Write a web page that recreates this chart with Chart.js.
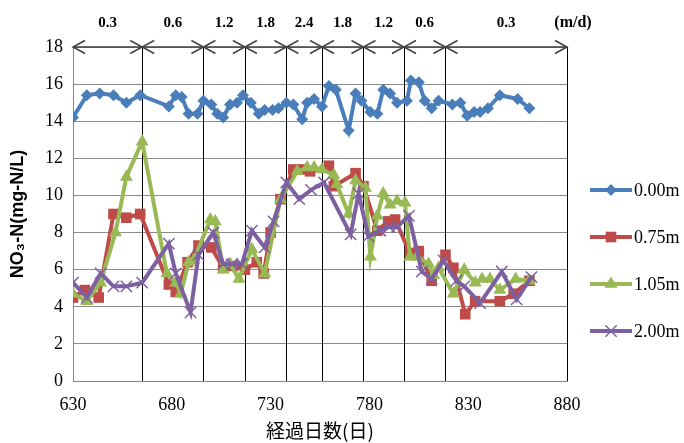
<!DOCTYPE html>
<html>
<head>
<meta charset="utf-8">
<script src="https://cdn.jsdelivr.net/npm/chart.js@4.4.1/dist/chart.umd.min.js"></script>
<style>
  body { margin: 0; background: #fff; }
  canvas { display: block; }
</style>
</head>
<body>
<canvas id="chart" width="684" height="443"></canvas>
<script>
// sampling days and NO3-N (mg-N/L) per depth
const days000 = [630, 637, 643.5, 650.5, 657, 664, 678.5, 682, 685, 688.5, 693, 696, 700, 703, 706, 709.5, 713, 716, 720, 724, 727, 731, 734, 738, 741.5, 746, 748.5, 752, 756, 759.5, 763, 769.5, 773, 776, 780.5, 784, 787, 790.5, 794, 799, 801, 805, 808, 811.5, 815, 822, 826, 829.5, 833, 836, 840, 846, 855, 861];
const no3_000 = [14.2, 15.4, 15.5, 15.4, 15.0, 15.4, 14.8, 15.4, 15.3, 14.4, 14.4, 15.1, 14.9, 14.4, 14.2, 14.9, 15.0, 15.4, 15.0, 14.4, 14.6, 14.6, 14.7, 15.0, 14.9, 14.1, 15.0, 15.2, 14.8, 15.9, 15.7, 13.5, 15.5, 15.1, 14.5, 14.4, 15.7, 15.5, 15.0, 15.1, 16.2, 16.1, 15.1, 14.7, 15.1, 14.9, 15.0, 14.3, 14.5, 14.5, 14.7, 15.4, 15.2, 14.7];

const days075 = [630, 636, 643, 650.5, 657, 664, 678.5, 682, 688, 693.5, 700, 706, 711, 717, 723, 726.5, 730, 735, 741.5, 746.5, 750, 759.5, 762, 773, 777, 784, 789.5, 793, 800.5, 805, 811.5, 818.5, 822.5, 828.5, 833.5, 846, 853, 861];
const no3_075 = [4.5, 4.9, 4.5, 9.0, 8.8, 9.0, 5.2, 4.8, 6.4, 7.3, 7.2, 6.1, 6.2, 6.0, 6.4, 5.8, 8.0, 9.8, 11.4, 11.4, 11.3, 11.6, 10.5, 11.2, 10.5, 8.1, 8.6, 8.7, 6.9, 7.0, 5.4, 6.8, 6.1, 3.6, 4.3, 4.3, 4.7, 5.4];

const days105 = [630, 637, 644, 651.5, 657, 665, 677.5, 682, 684.5, 688.5, 691, 699.5, 702, 706, 709.5, 714, 720.5, 727, 735, 743.5, 748.5, 752, 756, 762, 763.5, 769.5, 773, 778, 780.5, 784, 787, 790.5, 794, 798, 800.5, 804, 810, 812.5, 815, 822.5, 828, 833.5, 837, 841, 846, 854, 861];
const no3_105 = [4.7, 4.3, 5.3, 8.0, 11.0, 12.9, 5.8, 5.3, 4.7, 6.4, 6.5, 8.7, 8.6, 6.0, 6.3, 5.5, 7.1, 5.8, 9.8, 11.3, 11.5, 11.5, 11.4, 11.1, 10.6, 9.0, 10.8, 10.4, 6.7, 8.9, 10.1, 9.5, 9.7, 9.6, 6.7, 6.7, 6.3, 5.7, 6.1, 4.7, 6.0, 5.3, 5.5, 5.5, 4.9, 5.5, 5.4];

const days200 = [630, 637, 644, 650.5, 657, 665, 678.5, 682, 689.5, 693.5, 701, 706, 710.5, 715.5, 720.5, 727, 731.5, 738, 744.5, 750.5, 757, 770.5, 774.5, 779.5, 785.5, 790, 794, 800, 806.5, 811.5, 817.5, 824, 828, 836, 847, 854.5, 862];
const no3_200 = [5.3, 4.5, 5.8, 5.1, 5.1, 5.3, 7.4, 5.8, 3.7, 6.8, 8.0, 6.3, 6.3, 6.3, 8.1, 7.2, 8.6, 10.7, 9.8, 10.3, 10.7, 7.9, 10.1, 7.8, 8.1, 8.3, 8.3, 8.9, 5.9, 5.5, 6.5, 5.4, 5.1, 4.2, 5.9, 4.4, 5.6];

// loading-rate periods along the top (m/d)
const periodBounds = [630, 665, 696, 717, 738, 756, 777, 797.5, 818.5, 880];
const periodRates = ["0.3", "0.6", "1.2", "1.8", "2.4", "1.8", "1.2", "0.6", "0.3"];

const xTicks = [630, 680, 730, 780, 830, 880];

const series = [
  { label: "0.00m", days: days000, vals: no3_000, color: "#4A7EBB", style: "rectRot", r: 6 },
  { label: "0.75m", days: days075, vals: no3_075, color: "#BE4B48", style: "rect", r: 7.5 },
  { label: "1.05m", days: days105, vals: no3_105, color: "#98B954", style: "triangle", r: 7.5 },
  { label: "2.00m", days: days200, vals: no3_200, color: "#7D60A0", style: "crossRot", r: 8 },
];

function marker(ctx, style, x, y, r, color) {
  ctx.save();
  ctx.fillStyle = color;
  ctx.strokeStyle = color;
  ctx.beginPath();
  if (style === "rectRot") {
    ctx.moveTo(x - r, y); ctx.lineTo(x, y - r); ctx.lineTo(x + r, y); ctx.lineTo(x, y + r);
    ctx.closePath(); ctx.fill();
  } else if (style === "rect") {
    const s = r * Math.SQRT1_2;
    ctx.rect(x - s, y - s, 2 * s, 2 * s); ctx.fill();
  } else if (style === "triangle") {
    ctx.moveTo(x, y - r); ctx.lineTo(x + r * 0.87, y + r * 0.5); ctx.lineTo(x - r * 0.87, y + r * 0.5);
    ctx.closePath(); ctx.fill();
  } else {
    const s = r * Math.SQRT1_2;
    ctx.lineWidth = 1.5;
    ctx.moveTo(x - s, y - s); ctx.lineTo(x + s, y + s);
    ctx.moveTo(x + s, y - s); ctx.lineTo(x - s, y + s);
    ctx.stroke();
  }
  ctx.restore();
}

const overlay = {
  id: "overlay",
  beforeDatasetsDraw(chart) {
    const { ctx, chartArea: a, scales: { x } } = chart;
    ctx.save();
    ctx.strokeStyle = "#000";
    ctx.lineWidth = 1;
    periodBounds.slice(1).forEach((d) => {
      const px = Math.round(x.getPixelForValue(d)) + 0.5;
      ctx.beginPath();
      ctx.moveTo(px, a.top);
      ctx.lineTo(px, a.bottom);
      ctx.stroke();
    });
    ctx.restore();
  },
  afterDraw(chart) {
    const { ctx, chartArea: a, scales: { x } } = chart;
    const y0 = a.top;
    ctx.save();
    // arrows
    ctx.strokeStyle = "#404040";
    ctx.lineWidth = 1.5;
    ctx.beginPath();
    ctx.moveTo(x.getPixelForValue(periodBounds[0]), y0);
    ctx.lineTo(x.getPixelForValue(periodBounds[periodBounds.length - 1]), y0);
    ctx.stroke();
    ctx.font = "bold 15px 'Liberation Serif'";
    ctx.fillStyle = "#000";
    ctx.textAlign = "center";
    ctx.textBaseline = "middle";
    for (let i = 0; i < periodRates.length; i++) {
      const l = x.getPixelForValue(periodBounds[i]);
      const r = x.getPixelForValue(periodBounds[i + 1]);
      ctx.beginPath();
      ctx.moveTo(l + 12, y0 - 6.5); ctx.lineTo(l, y0); ctx.lineTo(l + 12, y0 + 6.5);
      ctx.moveTo(r - 12, y0 - 6.5); ctx.lineTo(r, y0); ctx.lineTo(r - 12, y0 + 6.5);
      ctx.stroke();
      ctx.fillText(periodRates[i], (l + r) / 2, 23);
    }
    ctx.font = "bold 16px 'Liberation Serif'";
    ctx.fillText("(m/d)", 573, 23);

    // legend
    ctx.font = "18px 'Liberation Serif'";
    ctx.textAlign = "left";
    series.forEach((s, i) => {
      const ly = 190 + i * 47;
      ctx.strokeStyle = s.color;
      ctx.lineWidth = 4;
      ctx.beginPath();
      ctx.moveTo(590, ly);
      ctx.lineTo(632, ly);
      ctx.stroke();
      marker(ctx, s.style, 611, ly, s.r, s.color);
      ctx.fillStyle = "#000";
      ctx.fillText(s.label, 634, ly + 1);
    });
    ctx.restore();
  },
};

const datasets = series.map((s, i) => ({
  label: s.label,
  data: s.days.map((d, k) => ({ x: d, y: s.vals[k] })),
  borderColor: s.color,
  backgroundColor: s.color,
  borderWidth: 4,
  pointStyle: s.style,
  pointRadius: s.r,
  pointBorderWidth: s.style === "crossRot" ? 1.5 : 0,
  pointBorderColor: s.color,
  pointBackgroundColor: s.color,
  tension: 0,
  order: 3 - i,
}));

new Chart(document.getElementById("chart"), {
  type: "line",
  data: { datasets },
  plugins: [overlay],
  options: {
    responsive: false,
    animation: false,
    layout: { padding: { top: 47, right: 117, left: 0, bottom: 0 } },
    plugins: { legend: { display: false }, tooltip: { enabled: false } },
    scales: {
      x: {
        type: "linear",
        min: 630,
        max: 880,
        afterBuildTicks: (scale) => { scale.ticks = xTicks.map((v) => ({ value: v })); },
        afterFit: (scale) => { scale.height = 62; },
        grid: { display: false, drawTicks: false },
        border: { display: true, color: "#868686", width: 1 },
        ticks: { color: "#000", font: { family: "'Liberation Serif'", size: 18 }, padding: 13, maxRotation: 0 },
        title: {
          display: true,
          text: "経過日数(日)",
          color: "#000",
          font: { family: "'Noto Sans CJK JP'", size: 19 },
          padding: { top: 0, bottom: 1 },
        },
      },
      y: {
        min: 0,
        max: 18,
        ticks: { stepSize: 2, color: "#000", font: { family: "'Liberation Serif'", size: 18 }, padding: 10 },
        afterFit: (scale) => { scale.width = 73; },
        grid: { color: "#8c8c8c", lineWidth: 1, drawTicks: false },
        border: { display: true, color: "#868686", width: 1 },
        title: {
          display: true,
          text: "NO₃-N(mg-N/L)",
          color: "#000",
          font: { family: "'Liberation Sans'", size: 18, weight: "bold" },
          padding: { top: 7, bottom: 0 },
        },
      },
    },
  },
});
</script>
</body>
</html>
